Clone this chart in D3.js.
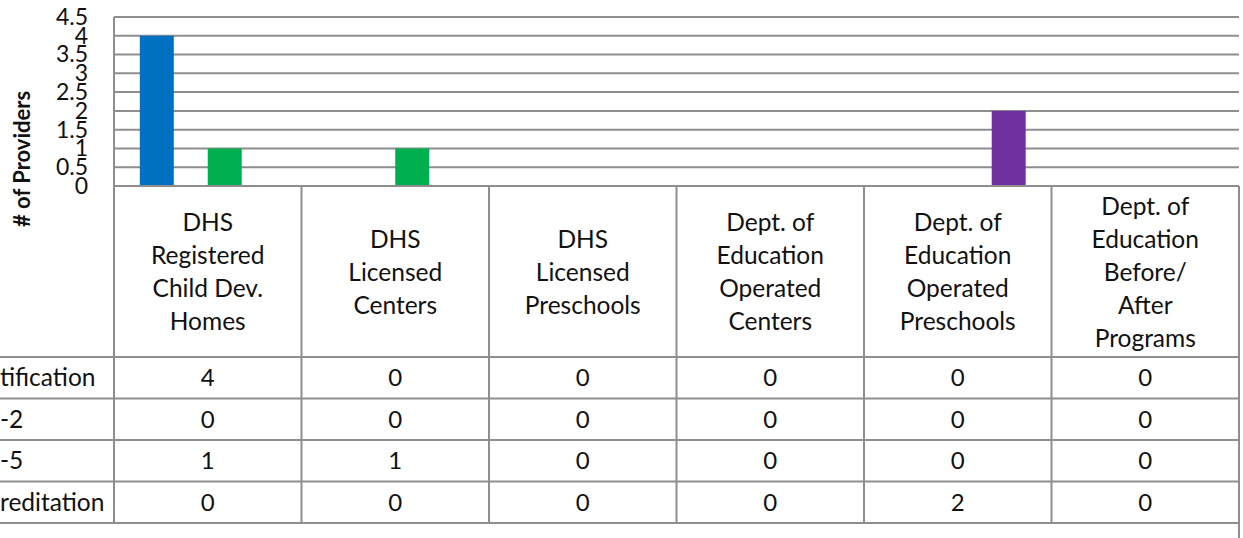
<!DOCTYPE html>
<html>
<head>
<meta charset="utf-8">
<script src="https://cdn.jsdelivr.net/npm/d3@7"></script>
<style>
  body { margin: 0; background: #fff; }
  text { font-family: Lato, "Open Sans", sans-serif; fill: #111; }
</style>
</head>
<body>
<div id="chart"></div>
<script>
// provider levels chart with data table
const categories = [
  "DHS|Registered|Child Dev.|Homes",
  "DHS|Licensed|Centers",
  "DHS|Licensed|Preschools",
  "Dept. of|Education|Operated|Centers",
  "Dept. of|Education|Operated|Preschools",
  "Dept. of|Education|Before/|After|Programs"
];
// row labels are cut off at the left edge in the original
const seriesNames = ["tification", "-2", "-5", "reditation"];
const seriesColors = ["#0070C0", "#C0504D", "#00B050", "#7030A0"];
const certification = [4, 0, 0, 0, 0, 0];
const level12 = [0, 0, 0, 0, 0, 0];
const level35 = [1, 1, 0, 0, 0, 0];
const accreditation = [0, 0, 0, 0, 2, 0];
const yTicks = [0, 0.5, 1, 1.5, 2, 2.5, 3, 3.5, 4, 4.5];

const seriesValues = [certification, level12, level35, accreditation];

(function () {
  const W = 1243, H = 538;
  const left = 114, right = 1239, top = 17, base = 186;
  const headerBottom = 357, rowH = 41.5;
  const grid = "#8e8e8e";

  const svg = d3.select("#chart").append("svg")
    .attr("width", W).attr("height", H);

  const x = d3.scaleBand().domain(d3.range(categories.length))
    .range([left, right]).padding(0);
  const xs = d3.scaleBand().domain(d3.range(seriesNames.length))
    .range([0, x.bandwidth()]).paddingInner(0).paddingOuter(0.76);
  const y = d3.scaleLinear().domain([0, 4.5]).range([base, top]);

  // gridlines
  svg.append("g").selectAll("line")
    .data(yTicks.filter(d => d > 0))
    .enter().append("line")
    .attr("x1", left).attr("x2", right)
    .attr("y1", d => y(d)).attr("y2", d => y(d))
    .attr("stroke", grid).attr("stroke-width", 2);

  // bars
  const data = [];
  seriesValues.forEach((vals, s) => vals.forEach((v, c) => data.push({ s, c, v })));
  svg.append("g").selectAll("rect")
    .data(data.filter(d => d.v > 0))
    .enter().append("rect")
    .attr("x", d => x(d.c) + xs(d.s))
    .attr("width", xs.bandwidth())
    .attr("y", d => y(d.v))
    .attr("height", d => y(0) - y(d.v))
    .attr("fill", d => seriesColors[d.s]);

  // y axis labels
  const yAxis = svg.append("g")
    .attr("transform", `translate(${left},0)`)
    .call(d3.axisLeft(y).tickValues(yTicks).tickSize(0).tickPadding(26)
      .tickFormat(d => d));
  yAxis.select(".domain").remove();
  yAxis.selectAll("text")
    .style("font-family", "Lato, sans-serif")
    .style("font-size", "23px").attr("fill", "#111");

  svg.append("text")
    .attr("transform", `translate(30,${159}) rotate(-90)`)
    .attr("text-anchor", "middle")
    .style("font-size", "22px").style("font-weight", "bold")
    .text("# of Providers");

  // table lines
  const lines = svg.append("g").attr("stroke", grid).attr("stroke-width", 2);
  lines.append("line").attr("x1", left).attr("x2", right)
    .attr("y1", base).attr("y2", base);
  const rowLines = [headerBottom].concat(seriesNames.map((d, i) => headerBottom + rowH * (i + 1)));
  lines.selectAll(".h").data(rowLines).enter().append("line")
    .attr("class", "h")
    .attr("x1", 0).attr("x2", right)
    .attr("y1", d => d).attr("y2", d => d);
  const tableBottom = rowLines[rowLines.length - 1];
  lines.selectAll(".v").data(d3.range(categories.length + 1)).enter().append("line")
    .attr("class", "v")
    .attr("x1", d => left + d * x.step()).attr("x2", d => left + d * x.step())
    .attr("y1", d => d === 0 ? top : base)
    .attr("y2", d => d === categories.length ? H : tableBottom);

  // header labels
  const lineH = 33;
  const head = svg.append("g").selectAll("text")
    .data(categories).enter().append("text")
    .attr("text-anchor", "middle")
    .style("font-size", "24.5px")
    .attr("x", (d, i) => x(i) + x.bandwidth() / 2)
    .attr("y", d => (base + headerBottom) / 2 - (d.split("|").length - 1) * lineH / 2 + 9);
  head.selectAll("tspan").data(d => d.split("|")).enter().append("tspan")
    .attr("x", function () { return this.parentNode.getAttribute("x"); })
    .attr("dy", (d, i) => i === 0 ? 0 : lineH)
    .text(d => d);

  // row labels
  svg.append("g").selectAll("text")
    .data(seriesNames).enter().append("text")
    .attr("x", 0)
    .attr("y", (d, i) => headerBottom + rowH * i + rowH / 2 + 8.5)
    .style("font-size", "24.5px")
    .text(d => d);

  // values
  svg.append("g").selectAll("text")
    .data(data).enter().append("text")
    .attr("text-anchor", "middle")
    .attr("x", d => x(d.c) + x.bandwidth() / 2)
    .attr("y", d => headerBottom + rowH * d.s + rowH / 2 + 8.5)
    .style("font-size", "24px")
    .text(d => d.v);
})();
</script>
</body>
</html>
